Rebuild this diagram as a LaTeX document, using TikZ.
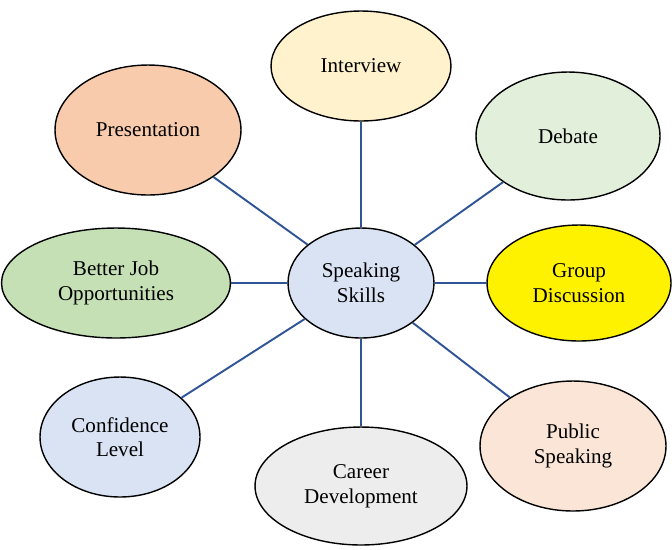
\documentclass[tikz,border=0pt]{standalone}
\usepackage{fontspec}
\setmainfont{Liberation Serif}
\usetikzlibrary{shapes.geometric}
\definecolor{linkblue}{HTML}{2F5597}
\tikzset{
  skill/.style={ellipse, draw=black, thick, align=center, inner sep=0pt,
    font=\fontsize{12}{14}\selectfont},
  link/.style={linkblue, line width=1.1pt}
}
\begin{document}
\begin{tikzpicture}[x=0.02cm,y=-0.02cm]
  \useasboundingbox (0,0) rectangle (672,549);
  \node[skill, fill={rgb,255:red,218;green,227;blue,243}, minimum width=2.92cm, minimum height=2.2cm] (speak) at (361,283) {Speaking\\Skills};
  \node[skill, fill={rgb,255:red,255;green,242;blue,204}, minimum width=3.6cm, minimum height=2.2cm] (interview) at (361,66) {Interview};
  \node[skill, fill={rgb,255:red,248;green,203;blue,173}, minimum width=3.72cm, minimum height=2.6cm] (present) at (148,130) {Presentation};
  \node[skill, fill={rgb,255:red,226;green,239;blue,218}, minimum width=3.68cm, minimum height=2.56cm] (debate) at (568,136) {Debate};
  \node[skill, fill={rgb,255:red,197;green,224;blue,180}, minimum width=4.58cm, minimum height=2.2cm] (betterjob) at (116,283) {Better Job\\Opportunities};
  \node[skill, fill=yellow, minimum width=3.68cm, minimum height=2.32cm] (groupdisc) at (579,283) {Group\\Discussion};
  \node[skill, fill={rgb,255:red,218;green,227;blue,243}, minimum width=3.2cm, minimum height=2.4cm] (confidence) at (120,437) {Confidence\\Level};
  \node[skill, fill={rgb,255:red,237;green,237;blue,237}, minimum width=4.24cm, minimum height=2.36cm] (career) at (361,486) {Career\\Development};
  \node[skill, fill={rgb,255:red,251;green,229;blue,214}, minimum width=3.72cm, minimum height=2.6cm] (public) at (573,446) {Public\\Speaking};
  % spokes
  \foreach \n in {interview,present,debate,betterjob,groupdisc,confidence,career,public}
    \draw[link] (speak) -- (\n);
\end{tikzpicture}
\end{document}
